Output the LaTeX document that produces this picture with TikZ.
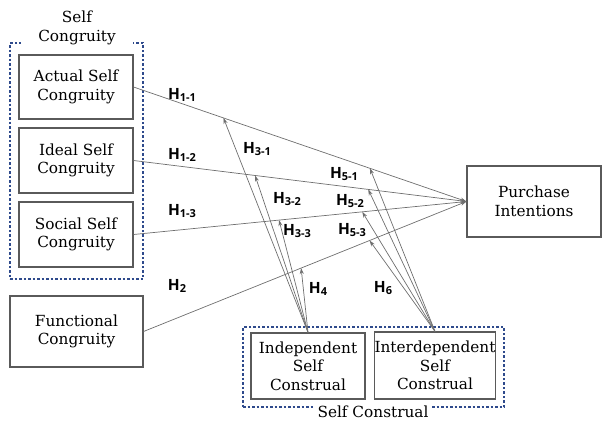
\documentclass[tikz,border=0pt]{standalone}
\usepackage{fontspec}
\setmainfont{DejaVu Serif}
\newfontfamily\hsans{Open Sans}
\usetikzlibrary{arrows.meta}
\definecolor{dashblue}{HTML}{2E4A8C}
\definecolor{linegray}{HTML}{6E6E6E}
\definecolor{boxgray}{HTML}{5A5A5A}
\newcommand\hy[1]{H\raisebox{-2.6pt}{\fontsize{11}{12}\selectfont #1}}
\begin{document}
\begin{tikzpicture}[x=1pt,y=-1pt,
  box/.style={draw=boxgray,line width=1.1pt,align=center,font=\fontsize{15.3}{18.5}\selectfont,inner sep=0pt},
  grp/.style={draw=dashblue,line width=1.2pt,dash pattern=on 2.5pt off 2pt,inner sep=0pt},
  link/.style={draw=linegray,line width=0.7pt,-{Stealth[length=6pt,width=4pt]}},
  hyp/.style={font=\hsans\bfseries\fontsize{15.5}{17}\selectfont,inner sep=0pt},
  grplabel/.style={fill=white,align=center,inner sep=1pt,font=\fontsize{15.3}{18.5}\selectfont},
]
\useasboundingbox (0,0) rectangle (602,421);
% groups
\node[grp,minimum width=133pt,minimum height=236pt] (scg) at (76.5,161) {};
\node[grp,minimum width=261pt,minimum height=80pt] (scn) at (373.5,367) {};
\node[grplabel,minimum width=112pt] (scgl) at (77,28) {Self\\Congruity};
\node[grplabel,minimum width=118pt] (scnl) at (373,412) {Self Construal};
% boxes
\node[box,minimum width=114pt,minimum height=64pt] (act) at (76,87) {Actual Self\\Congruity};
\node[box,minimum width=114pt,minimum height=65pt] (ide) at (76,160.5) {Ideal Self\\Congruity};
\node[box,minimum width=114pt,minimum height=65pt] (soc) at (76,234.5) {Social Self\\Congruity};
\node[box,minimum width=133pt,minimum height=71pt] (fun) at (76.5,331.5) {Functional\\Congruity};
\node[box,minimum width=134pt,minimum height=71pt] (pi) at (534,201.5) {Purchase\\Intentions};
\node[box,minimum width=114pt,minimum height=66pt] (ind) at (308,366) {Independent\\Self\\Construal};
\node[box,minimum width=116pt,minimum height=67pt] (inter) at (435,365.5) {Interdependent\\Self\\Construal};
% main paths
\draw[link] (act.east) -- (pi.west) coordinate[pos=0.27] (m11) coordinate[pos=0.71] (m51);
\draw[link] (ide.east) -- (pi.west) coordinate[pos=0.365] (m12) coordinate[pos=0.705] (m52);
\draw[link] (soc.east) -- (pi.west) coordinate[pos=0.437] (m13) coordinate[pos=0.687] (m53);
\draw[link] (fun.east) -- (pi.west) coordinate[pos=0.488] (m2) coordinate[pos=0.70] (m6);
% moderation
\foreach \t in {m11,m12,m13,m2} \draw[link] (ind.north) -- (\t);
\foreach \t in {m51,m52,m53,m6} \draw[link] (inter.north) -- (\t);
% labels
\node[hyp] (h11) at (182,95) {\hy{1-1}};
\node[hyp] (h12) at (182,155) {\hy{1-2}};
\node[hyp] (h13) at (182,211) {\hy{1-3}};
\node[hyp] (h2) at (177,286) {\hy{2}};
\node[hyp] (h31) at (257,149) {\hy{3-1}};
\node[hyp] (h32) at (287,199) {\hy{3-2}};
\node[hyp] (h33) at (297,231) {\hy{3-3}};
\node[hyp] (h4) at (318,289) {\hy{4}};
\node[hyp] (h51) at (344,174) {\hy{5-1}};
\node[hyp] (h52) at (350,201) {\hy{5-2}};
\node[hyp] (h53) at (352,230) {\hy{5-3}};
\node[hyp] (h6) at (383,288) {\hy{6}};
\end{tikzpicture}
\end{document}
